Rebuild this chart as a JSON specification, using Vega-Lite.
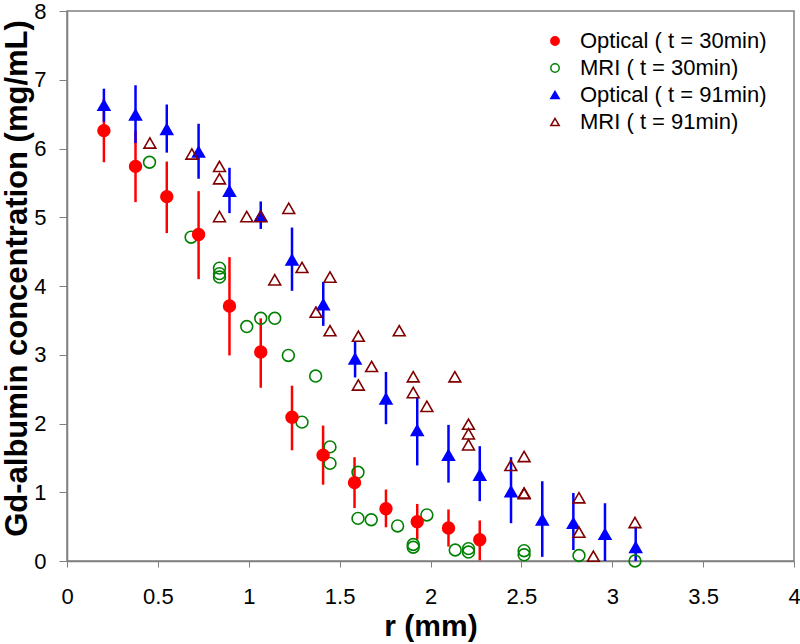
{
  "$schema": "https://vega.github.io/schema/vega-lite/v6.json",
  "width": 727,
  "height": 550,
  "autosize": "none",
  "padding": {"left": 67, "top": 11, "right": 6, "bottom": 83},
  "background": "white",
  "config": {
    "view": {"stroke": "#808080", "strokeWidth": 1.5},
    "font": "Liberation Sans",
    "axis": {
      "grid": false,
      "domainColor": "#808080",
      "domainWidth": 1.5,
      "tickColor": "#808080",
      "tickWidth": 1,
      "labelFont": "Liberation Sans",
      "labelFontSize": 22,
      "labelColor": "black",
      "titleFont": "Liberation Sans",
      "titleFontSize": 30,
      "titleFontWeight": "bold",
      "titleColor": "black"
    }
  },
  "datasets": {
    "bars": [
      {"series": "Optical ( t = 30min)", "r": 0.203, "lo": 5.80, "hi": 6.72},
      {"series": "Optical ( t = 30min)", "r": 0.377, "lo": 5.22, "hi": 6.26},
      {"series": "Optical ( t = 30min)", "r": 0.549, "lo": 4.77, "hi": 5.81},
      {"series": "Optical ( t = 30min)", "r": 0.724, "lo": 4.10, "hi": 5.38},
      {"series": "Optical ( t = 30min)", "r": 0.894, "lo": 2.99, "hi": 4.42},
      {"series": "Optical ( t = 30min)", "r": 1.066, "lo": 2.52, "hi": 3.53},
      {"series": "Optical ( t = 30min)", "r": 1.238, "lo": 1.61, "hi": 2.55},
      {"series": "Optical ( t = 30min)", "r": 1.409, "lo": 1.11, "hi": 1.97},
      {"series": "Optical ( t = 30min)", "r": 1.582, "lo": 0.77, "hi": 1.51},
      {"series": "Optical ( t = 30min)", "r": 1.755, "lo": 0.49, "hi": 1.04},
      {"series": "Optical ( t = 30min)", "r": 1.927, "lo": 0.31, "hi": 0.83},
      {"series": "Optical ( t = 30min)", "r": 2.099, "lo": 0.21, "hi": 0.75},
      {"series": "Optical ( t = 30min)", "r": 2.271, "lo": 0.01, "hi": 0.59},
      {"series": "Optical ( t = 91min)", "r": 0.203, "lo": 6.39, "hi": 6.87},
      {"series": "Optical ( t = 91min)", "r": 0.377, "lo": 6.08, "hi": 6.92},
      {"series": "Optical ( t = 91min)", "r": 0.549, "lo": 5.94, "hi": 6.64},
      {"series": "Optical ( t = 91min)", "r": 0.724, "lo": 5.56, "hi": 6.36},
      {"series": "Optical ( t = 91min)", "r": 0.894, "lo": 5.06, "hi": 5.72},
      {"series": "Optical ( t = 91min)", "r": 1.066, "lo": 4.83, "hi": 5.23},
      {"series": "Optical ( t = 91min)", "r": 1.238, "lo": 3.93, "hi": 4.85},
      {"series": "Optical ( t = 91min)", "r": 1.41, "lo": 3.42, "hi": 4.06},
      {"series": "Optical ( t = 91min)", "r": 1.585, "lo": 2.67, "hi": 3.20},
      {"series": "Optical ( t = 91min)", "r": 1.755, "lo": 1.99, "hi": 2.75},
      {"series": "Optical ( t = 91min)", "r": 1.927, "lo": 1.39, "hi": 2.38},
      {"series": "Optical ( t = 91min)", "r": 2.099, "lo": 1.14, "hi": 1.98},
      {"series": "Optical ( t = 91min)", "r": 2.271, "lo": 0.87, "hi": 1.67},
      {"series": "Optical ( t = 91min)", "r": 2.443, "lo": 0.55, "hi": 1.51},
      {"series": "Optical ( t = 91min)", "r": 2.615, "lo": 0.06, "hi": 1.16},
      {"series": "Optical ( t = 91min)", "r": 2.786, "lo": 0.16, "hi": 0.99},
      {"series": "Optical ( t = 91min)", "r": 2.96, "lo": 0.0, "hi": 0.84},
      {"series": "Optical ( t = 91min)", "r": 3.129, "lo": 0.0, "hi": 0.50}
    ],
    "pts": [
      {"series": "\u00a0MRI ( t = 30min)", "r": 0.454, "c": 5.80},
      {"series": "\u00a0MRI ( t = 30min)", "r": 0.683, "c": 4.71},
      {"series": "\u00a0MRI ( t = 30min)", "r": 0.839, "c": 4.26},
      {"series": "\u00a0MRI ( t = 30min)", "r": 0.839, "c": 4.18},
      {"series": "\u00a0MRI ( t = 30min)", "r": 0.839, "c": 4.13},
      {"series": "\u00a0MRI ( t = 30min)", "r": 0.989, "c": 3.41},
      {"series": "\u00a0MRI ( t = 30min)", "r": 1.066, "c": 3.53},
      {"series": "\u00a0MRI ( t = 30min)", "r": 1.143, "c": 3.53},
      {"series": "\u00a0MRI ( t = 30min)", "r": 1.218, "c": 2.99},
      {"series": "\u00a0MRI ( t = 30min)", "r": 1.293, "c": 2.02},
      {"series": "\u00a0MRI ( t = 30min)", "r": 1.368, "c": 2.69},
      {"series": "\u00a0MRI ( t = 30min)", "r": 1.447, "c": 1.66},
      {"series": "\u00a0MRI ( t = 30min)", "r": 1.447, "c": 1.42},
      {"series": "\u00a0MRI ( t = 30min)", "r": 1.601, "c": 1.29},
      {"series": "\u00a0MRI ( t = 30min)", "r": 1.601, "c": 0.62},
      {"series": "\u00a0MRI ( t = 30min)", "r": 1.674, "c": 0.60},
      {"series": "\u00a0MRI ( t = 30min)", "r": 1.819, "c": 0.51},
      {"series": "\u00a0MRI ( t = 30min)", "r": 1.905, "c": 0.24},
      {"series": "\u00a0MRI ( t = 30min)", "r": 1.905, "c": 0.20},
      {"series": "\u00a0MRI ( t = 30min)", "r": 1.98, "c": 0.67},
      {"series": "\u00a0MRI ( t = 30min)", "r": 2.136, "c": 0.16},
      {"series": "\u00a0MRI ( t = 30min)", "r": 2.209, "c": 0.18},
      {"series": "\u00a0MRI ( t = 30min)", "r": 2.209, "c": 0.13},
      {"series": "\u00a0MRI ( t = 30min)", "r": 2.515, "c": 0.15},
      {"series": "\u00a0MRI ( t = 30min)", "r": 2.515, "c": 0.09},
      {"series": "\u00a0MRI ( t = 30min)", "r": 2.817, "c": 0.08},
      {"series": "\u00a0MRI ( t = 30min)", "r": 3.125, "c": 0.0},
      {"series": "Optical ( t = 30min)", "r": 0.203, "c": 6.26},
      {"series": "Optical ( t = 30min)", "r": 0.377, "c": 5.74},
      {"series": "Optical ( t = 30min)", "r": 0.549, "c": 5.30},
      {"series": "Optical ( t = 30min)", "r": 0.724, "c": 4.75},
      {"series": "Optical ( t = 30min)", "r": 0.894, "c": 3.71},
      {"series": "Optical ( t = 30min)", "r": 1.066, "c": 3.04},
      {"series": "Optical ( t = 30min)", "r": 1.238, "c": 2.09},
      {"series": "Optical ( t = 30min)", "r": 1.409, "c": 1.54},
      {"series": "Optical ( t = 30min)", "r": 1.582, "c": 1.14},
      {"series": "Optical ( t = 30min)", "r": 1.755, "c": 0.76},
      {"series": "Optical ( t = 30min)", "r": 1.927, "c": 0.57},
      {"series": "Optical ( t = 30min)", "r": 2.099, "c": 0.48},
      {"series": "Optical ( t = 30min)", "r": 2.271, "c": 0.31},
      {"series": "Optical ( t = 91min)", "r": 0.203, "c": 6.63},
      {"series": "Optical ( t = 91min)", "r": 0.377, "c": 6.49},
      {"series": "Optical ( t = 91min)", "r": 0.549, "c": 6.28},
      {"series": "Optical ( t = 91min)", "r": 0.724, "c": 5.95},
      {"series": "Optical ( t = 91min)", "r": 0.894, "c": 5.38},
      {"series": "Optical ( t = 91min)", "r": 1.066, "c": 5.02},
      {"series": "Optical ( t = 91min)", "r": 1.238, "c": 4.38},
      {"series": "Optical ( t = 91min)", "r": 1.41, "c": 3.73},
      {"series": "Optical ( t = 91min)", "r": 1.585, "c": 2.94},
      {"series": "Optical ( t = 91min)", "r": 1.755, "c": 2.36},
      {"series": "Optical ( t = 91min)", "r": 1.927, "c": 1.90},
      {"series": "Optical ( t = 91min)", "r": 2.099, "c": 1.54},
      {"series": "Optical ( t = 91min)", "r": 2.271, "c": 1.25},
      {"series": "Optical ( t = 91min)", "r": 2.443, "c": 1.01},
      {"series": "Optical ( t = 91min)", "r": 2.615, "c": 0.60},
      {"series": "Optical ( t = 91min)", "r": 2.786, "c": 0.55},
      {"series": "Optical ( t = 91min)", "r": 2.96, "c": 0.39},
      {"series": "Optical ( t = 91min)", "r": 3.129, "c": 0.20},
      {"series": "\u00a0MRI ( t = 91min)", "r": 0.456, "c": 6.08},
      {"series": "\u00a0MRI ( t = 91min)", "r": 0.687, "c": 5.92},
      {"series": "\u00a0MRI ( t = 91min)", "r": 0.839, "c": 5.74},
      {"series": "\u00a0MRI ( t = 91min)", "r": 0.839, "c": 5.56},
      {"series": "\u00a0MRI ( t = 91min)", "r": 0.839, "c": 5.01},
      {"series": "\u00a0MRI ( t = 91min)", "r": 0.989, "c": 5.01},
      {"series": "\u00a0MRI ( t = 91min)", "r": 1.066, "c": 5.01},
      {"series": "\u00a0MRI ( t = 91min)", "r": 1.22, "c": 5.13},
      {"series": "\u00a0MRI ( t = 91min)", "r": 1.143, "c": 4.09},
      {"series": "\u00a0MRI ( t = 91min)", "r": 1.293, "c": 4.27},
      {"series": "\u00a0MRI ( t = 91min)", "r": 1.447, "c": 4.13},
      {"series": "\u00a0MRI ( t = 91min)", "r": 1.37, "c": 3.62},
      {"series": "\u00a0MRI ( t = 91min)", "r": 1.447, "c": 3.35},
      {"series": "\u00a0MRI ( t = 91min)", "r": 1.603, "c": 3.27},
      {"series": "\u00a0MRI ( t = 91min)", "r": 1.603, "c": 2.56},
      {"series": "\u00a0MRI ( t = 91min)", "r": 1.676, "c": 2.83},
      {"series": "\u00a0MRI ( t = 91min)", "r": 1.828, "c": 3.35},
      {"series": "\u00a0MRI ( t = 91min)", "r": 1.905, "c": 2.68},
      {"series": "\u00a0MRI ( t = 91min)", "r": 1.905, "c": 2.45},
      {"series": "\u00a0MRI ( t = 91min)", "r": 1.98, "c": 2.25},
      {"series": "\u00a0MRI ( t = 91min)", "r": 2.134, "c": 2.68},
      {"series": "\u00a0MRI ( t = 91min)", "r": 2.209, "c": 1.99},
      {"series": "\u00a0MRI ( t = 91min)", "r": 2.209, "c": 1.85},
      {"series": "\u00a0MRI ( t = 91min)", "r": 2.209, "c": 1.69},
      {"series": "\u00a0MRI ( t = 91min)", "r": 2.442, "c": 1.39},
      {"series": "\u00a0MRI ( t = 91min)", "r": 2.515, "c": 1.52},
      {"series": "\u00a0MRI ( t = 91min)", "r": 2.515, "c": 0.99},
      {"series": "\u00a0MRI ( t = 91min)", "r": 2.515, "c": 0.98},
      {"series": "\u00a0MRI ( t = 91min)", "r": 2.817, "c": 0.92},
      {"series": "\u00a0MRI ( t = 91min)", "r": 2.817, "c": 0.42},
      {"series": "\u00a0MRI ( t = 91min)", "r": 2.896, "c": 0.07},
      {"series": "\u00a0MRI ( t = 91min)", "r": 3.125, "c": 0.56}
    ]
  },
  "layer": [
    {
      "data": {"name": "bars"},
      "mark": {"type": "rule", "strokeWidth": 2.5},
      "encoding": {
        "x": {"field": "r", "type": "quantitative",
              "scale": {"domain": [0, 4], "nice": false, "zero": false},
              "axis": {"title": "r (mm)", "values": [0, 0.5, 1, 1.5, 2, 2.5, 3, 3.5, 4], "format": "~g", "tickSize": 6, "labelPadding": 19, "titlePadding": 4, "labelFlush": false}},
        "y": {"field": "lo", "type": "quantitative",
              "scale": {"domain": [0, 8], "nice": false},
              "axis": {"title": "Gd-albumin concentration (mg/mL)", "values": [0, 1, 2, 3, 4, 5, 6, 7, 8], "format": "d", "tickSize": 8, "labelPadding": 13, "titleFontSize": 31, "titleBaseline": "alphabetic", "titleX": -41, "titleY": 267}},
        "y2": {"field": "hi"},
        "color": {"field": "series", "type": "nominal",
                  "scale": {"domain": ["Optical ( t = 30min)", "Optical ( t = 91min)"], "range": ["#FF0000", "#0000FF"]},
                  "legend": null}
      }
    },
    {
      "data": {"name": "pts"},
      "mark": {"type": "point", "size": 140, "strokeWidth": 1.6, "opacity": 1},
      "encoding": {
        "x": {"field": "r", "type": "quantitative"},
        "y": {"field": "c", "type": "quantitative"},
        "shape": {"field": "series", "type": "nominal", "sort": null,
                  "scale": {"domain": ["Optical ( t = 30min)", "\u00a0MRI ( t = 30min)", "Optical ( t = 91min)", "\u00a0MRI ( t = 91min)"], "range": ["circle", "circle", "triangle-up", "triangle-up"]},
                  "legend": {"title": null, "orient": "none", "legendX": 477, "legendY": 19, "labelFontSize": 22, "labelLimit": 400, "labelFont": "Liberation Sans", "labelColor": "black", "symbolSize": 70, "symbolStrokeWidth": 1.5, "rowPadding": 5, "labelOffset": 14, "padding": 0}},
        "fill": {"field": "series", "type": "nominal",
                 "scale": {"domain": ["Optical ( t = 30min)", "\u00a0MRI ( t = 30min)", "Optical ( t = 91min)", "\u00a0MRI ( t = 91min)"], "range": ["#FF0000", "transparent", "#0000FF", "transparent"]},
                 "legend": {"title": null}},
        "stroke": {"field": "series", "type": "nominal",
                   "scale": {"domain": ["Optical ( t = 30min)", "\u00a0MRI ( t = 30min)", "Optical ( t = 91min)", "\u00a0MRI ( t = 91min)"], "range": ["#FF0000", "#008000", "#0000FF", "#800000"]},
                   "legend": {"title": null}}
      }
    }
  ]
}
